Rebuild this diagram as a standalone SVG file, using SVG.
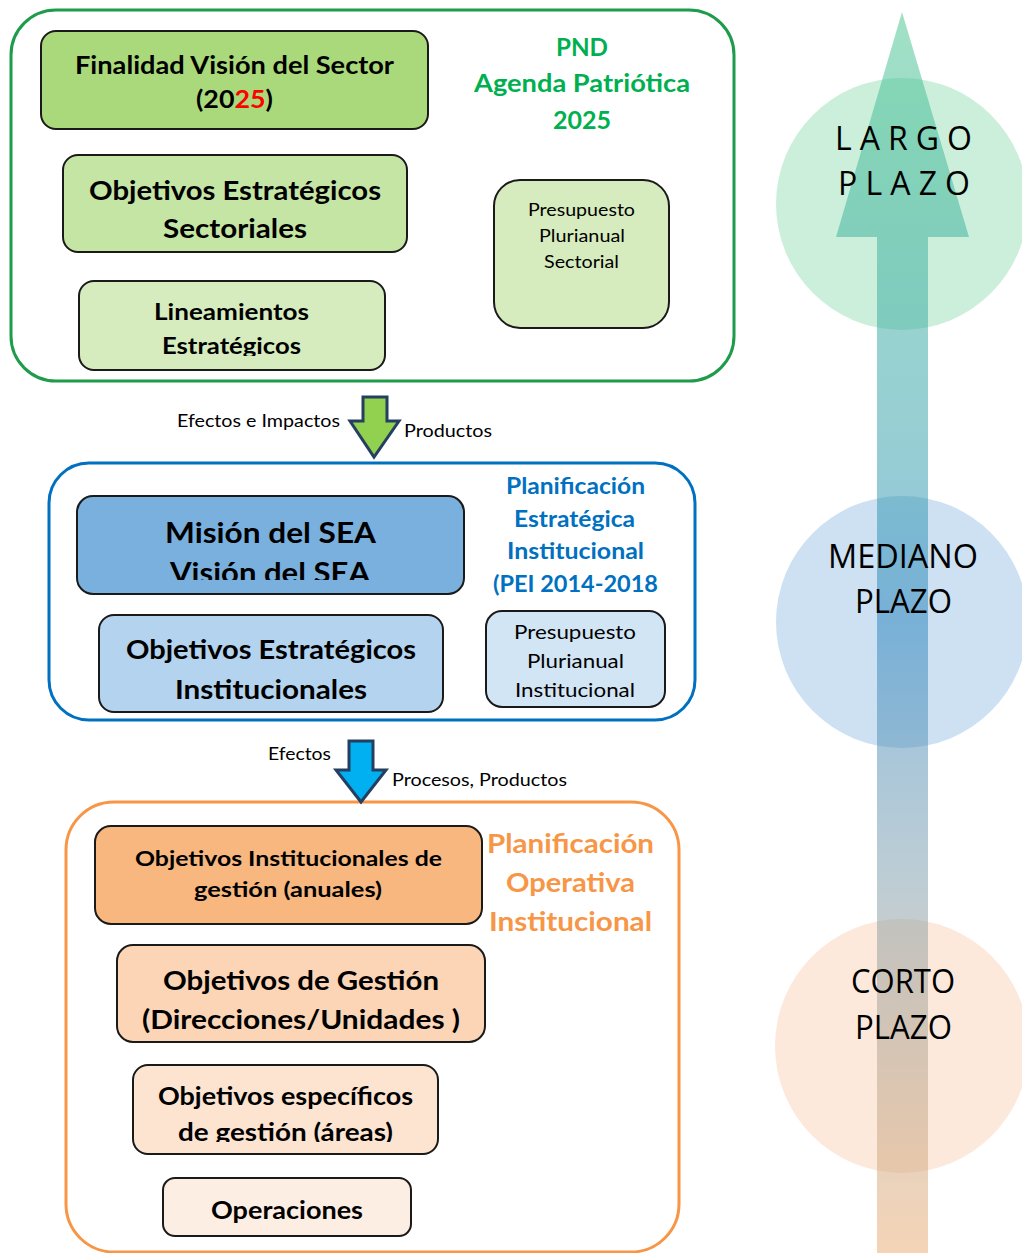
<svg xmlns="http://www.w3.org/2000/svg" width="1022" height="1253" viewBox="0 0 1022 1253">
<defs>
<style>
.b{font-family:"Lato","Open Sans","Liberation Sans",sans-serif;font-weight:bold;fill:#000}
.r{font-family:"Lato","Open Sans","Liberation Sans",sans-serif;font-weight:normal;fill:#000}
.box{stroke:#1a1a1a;stroke-width:2}
.tl{font-family:"Open Sans","Lato","Liberation Sans",sans-serif;font-size:32px;fill:#000}
</style>
<linearGradient id="g" gradientUnits="userSpaceOnUse" x1="0" y1="12" x2="0" y2="1253">
<stop offset="0" stop-color="#41c38c"/>
<stop offset="0.36" stop-color="#2d9ba9"/>
<stop offset="0.49" stop-color="#2580bc"/>
<stop offset="0.675" stop-color="#7399ad"/>
<stop offset="1" stop-color="#eba96d"/>
</linearGradient>
<clipPath id="c1"><rect x="0" y="0" width="1022" height="356"/></clipPath>
<clipPath id="c2"><rect x="0" y="0" width="1022" height="580"/></clipPath>
<clipPath id="c3"><rect x="0" y="0" width="1022" height="1142"/></clipPath>
</defs>
<rect width="1022" height="1253" fill="#fff"/>

<g id="timeline">
<circle cx="902" cy="204" r="126" fill="#00b050" fill-opacity="0.2"/>
<circle cx="902" cy="622" r="126" fill="#5b9bd5" fill-opacity="0.3"/>
<circle cx="902" cy="1046" r="127" fill="#f4b183" fill-opacity="0.28"/>
<path d="M902,12 L969,237 L928,237 L928,1253 L877,1253 L877,237 L836,237 Z" fill="url(#g)" fill-opacity="0.5"/>
<text class="tl" x="835" y="150" textLength="137" lengthAdjust="spacing">LARGO</text>
<text class="tl" x="838" y="195" textLength="132" lengthAdjust="spacing">PLAZO</text>
<text class="tl" x="828" y="568" textLength="150" lengthAdjust="spacingAndGlyphs">MEDIANO</text>
<text class="tl" x="855" y="613" textLength="97" lengthAdjust="spacingAndGlyphs">PLAZO</text>
<text class="tl" x="851" y="993" textLength="104" lengthAdjust="spacingAndGlyphs">CORTO</text>
<text class="tl" x="855" y="1039" textLength="97" lengthAdjust="spacingAndGlyphs">PLAZO</text>
</g>

<g id="pnd">
<rect x="11" y="10" width="723" height="371" rx="45" fill="#fff" stroke="#1e9c4b" stroke-width="3"/>
<text class="b" x="556" y="56" font-size="24" style="fill:#00b050" textLength="52" lengthAdjust="spacingAndGlyphs">PND</text>
<text class="b" x="474" y="92" font-size="24" style="fill:#00b050" textLength="216" lengthAdjust="spacingAndGlyphs">Agenda Patriótica</text>
<text class="b" x="553" y="129" font-size="24" style="fill:#00b050" textLength="58" lengthAdjust="spacingAndGlyphs">2025</text>
</g>
<g id="finalidad">
<rect class="box" x="41" y="31" width="387" height="98" rx="15" fill="#a9d97a"/>
<text class="b" x="75" y="74" font-size="24" textLength="319" lengthAdjust="spacingAndGlyphs">Finalidad Visión del Sector</text>
<text class="b" x="196" y="108" font-size="24" textLength="77" lengthAdjust="spacingAndGlyphs">(20<tspan style="fill:#ff0000">25</tspan>)</text>
</g>
<g id="obj-sectoriales">
<rect class="box" x="63" y="155" width="344" height="97" rx="15" fill="#c5e5a5"/>
<text class="b" x="89" y="200" font-size="27" textLength="292" lengthAdjust="spacingAndGlyphs">Objetivos Estratégicos</text>
<text class="b" x="163" y="238" font-size="27" textLength="144" lengthAdjust="spacingAndGlyphs">Sectoriales</text>
</g>
<g id="lineamientos">
<rect class="box" x="79" y="281" width="306" height="89" rx="15" fill="#d6ecbe"/>
<text class="b" x="154" y="320" font-size="22" textLength="155" lengthAdjust="spacingAndGlyphs">Lineamientos</text>
<text class="b" x="162" y="354" font-size="22" textLength="139" lengthAdjust="spacingAndGlyphs" clip-path="url(#c1)">Estratégicos</text>
</g>
<g id="presupuesto-sectorial">
<rect class="box" x="494" y="180" width="175" height="148" rx="26" fill="#d6ecbe"/>
<text class="r" x="528" y="216" font-size="17" textLength="107" lengthAdjust="spacingAndGlyphs">Presupuesto</text>
<text class="r" x="539" y="242" font-size="17" textLength="86" lengthAdjust="spacingAndGlyphs">Plurianual</text>
<text class="r" x="544" y="268" font-size="17" textLength="75" lengthAdjust="spacingAndGlyphs">Sectorial</text>
</g>

<g id="pei">
<rect x="49" y="463" width="646" height="257" rx="40" fill="#fff" stroke="#0070c0" stroke-width="3"/>
<text class="b" x="506" y="494" font-size="23" style="fill:#0070c0" textLength="139" lengthAdjust="spacingAndGlyphs">Planificación</text>
<text class="b" x="514" y="527" font-size="23" style="fill:#0070c0" textLength="121" lengthAdjust="spacingAndGlyphs">Estratégica</text>
<text class="b" x="507" y="559" font-size="23" style="fill:#0070c0" textLength="137" lengthAdjust="spacingAndGlyphs">Institucional</text>
<text class="b" x="493" y="592" font-size="23" style="fill:#0070c0" textLength="165" lengthAdjust="spacingAndGlyphs">(PEI 2014-2018</text>
</g>
<g id="mision">
<rect class="box" x="77" y="496" width="387" height="98" rx="16" fill="#7ab0de"/>
<text class="b" x="165" y="543" font-size="29" textLength="211" lengthAdjust="spacingAndGlyphs">Misión del SEA</text>
<text class="b" x="170" y="583" font-size="29" textLength="200" lengthAdjust="spacingAndGlyphs" clip-path="url(#c2)">Visión del SEA</text>
</g>
<g id="obj-institucionales">
<rect class="box" x="99" y="615" width="344" height="97" rx="15" fill="#b3d3ee"/>
<text class="b" x="126" y="659" font-size="27" textLength="290" lengthAdjust="spacingAndGlyphs">Objetivos Estratégicos</text>
<text class="b" x="175" y="699" font-size="27" textLength="192" lengthAdjust="spacingAndGlyphs">Institucionales</text>
</g>
<g id="presupuesto-institucional">
<rect class="box" x="486" y="611" width="179" height="96" rx="16" fill="#d2e5f4"/>
<text class="r" x="514" y="639" font-size="19" textLength="122" lengthAdjust="spacingAndGlyphs">Presupuesto</text>
<text class="r" x="527" y="668" font-size="19" textLength="97" lengthAdjust="spacingAndGlyphs">Plurianual</text>
<text class="r" x="515" y="697" font-size="19" textLength="120" lengthAdjust="spacingAndGlyphs">Institucional</text>
</g>

<g id="poi">
<rect x="66" y="802" width="613" height="450" rx="48" fill="#fff" stroke="#f79646" stroke-width="3"/>
<text class="b" x="487" y="853" font-size="27" style="fill:#f79646" textLength="167" lengthAdjust="spacingAndGlyphs">Planificación</text>
<text class="b" x="506" y="892" font-size="27" style="fill:#f79646" textLength="129" lengthAdjust="spacingAndGlyphs">Operativa</text>
<text class="b" x="489" y="931" font-size="27" style="fill:#f79646" textLength="163" lengthAdjust="spacingAndGlyphs">Institucional</text>
</g>
<g id="obj-gestion-anuales">
<rect class="box" x="95" y="826" width="387" height="98" rx="16" fill="#f8b77f"/>
<text class="b" x="135" y="866" font-size="21" textLength="307" lengthAdjust="spacingAndGlyphs">Objetivos Institucionales de</text>
<text class="b" x="194" y="897" font-size="21" textLength="188" lengthAdjust="spacingAndGlyphs">gestión (anuales)</text>
</g>
<g id="obj-gestion">
<rect class="box" x="117" y="945" width="368" height="97" rx="16" fill="#fbd5b5"/>
<text class="b" x="163" y="990" font-size="27" textLength="276" lengthAdjust="spacingAndGlyphs">Objetivos de Gestión</text>
<text class="b" x="142" y="1029" font-size="27" textLength="318" lengthAdjust="spacingAndGlyphs">(Direcciones/Unidades )</text>
</g>
<g id="obj-especificos">
<rect class="box" x="133" y="1065" width="305" height="89" rx="15" fill="#fce4d1"/>
<text class="b" x="158" y="1105" font-size="24" textLength="255" lengthAdjust="spacingAndGlyphs">Objetivos específicos</text>
<text class="b" x="178" y="1141" font-size="24" textLength="215" lengthAdjust="spacingAndGlyphs" clip-path="url(#c3)">de gestión (áreas)</text>
</g>
<g id="operaciones">
<rect class="box" x="163" y="1178" width="248" height="58" rx="12" fill="#fdeee3"/>
<text class="b" x="211" y="1219" font-size="24" textLength="152" lengthAdjust="spacingAndGlyphs">Operaciones</text>
</g>

<g id="connectors">
<path d="M363,397 L387,397 L387,421 L399,421 L374,457 L350,421 L363,421 Z" fill="#92d050" stroke="#243f60" stroke-width="3" stroke-linejoin="miter"/>
<text class="r" x="177" y="427" font-size="17" textLength="163" lengthAdjust="spacingAndGlyphs">Efectos e Impactos</text>
<text class="r" x="404" y="437" font-size="17" textLength="88" lengthAdjust="spacingAndGlyphs">Productos</text>
<path d="M349,741 L373,741 L373,770 L386,770 L361,802 L336,770 L349,770 Z" fill="#00b0f0" stroke="#243f60" stroke-width="3" stroke-linejoin="miter"/>
<text class="r" x="268" y="760" font-size="17" textLength="63" lengthAdjust="spacingAndGlyphs">Efectos</text>
<text class="r" x="392" y="786" font-size="17" textLength="175" lengthAdjust="spacingAndGlyphs">Procesos, Productos</text>
</g>
</svg>
